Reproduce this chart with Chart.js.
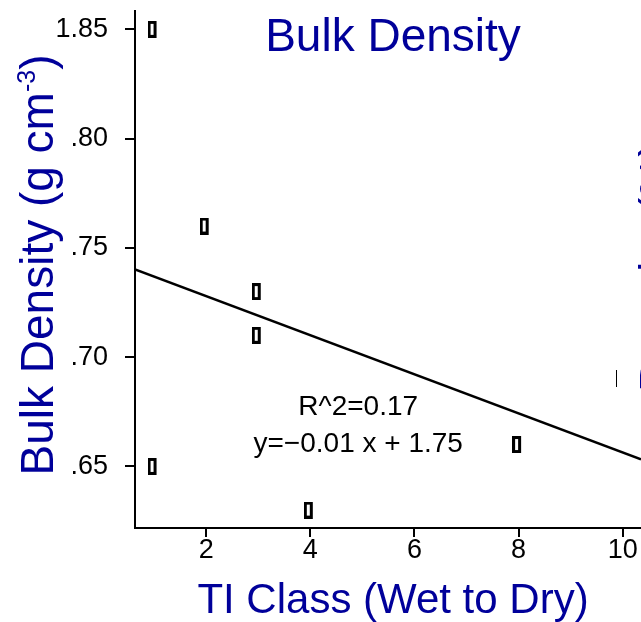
<!DOCTYPE html>
<html>
<head>
<meta charset="utf-8">
<title>Bulk Density</title>
<script src="https://cdn.jsdelivr.net/npm/chart.js@4.4.1/dist/chart.umd.min.js"></script>
<style>
  html, body { margin: 0; padding: 0; background: #fff; overflow: hidden; }
  canvas { display: block; }
</style>
</head>
<body>
<canvas id="bd" width="641" height="622"></canvas>
<script>
// TI class of each sample and its bulk density (g cm-3)
var tiClass = [1, 2, 3, 3, 1, 4, 8, 10];
var bulkDensity = [1.85, 1.76, 1.73, 1.71, 1.65, 1.63, 1.66, 1.69];

var xTicks = [2, 4, 6, 8, 10];
var yTicks = [1.65, 1.70, 1.75, 1.80, 1.85];
var yTickLabels = ['.65', '.70', '.75', '.80', '1.85'];

var xRange = [0.634, 10.35];
var yRange = [1.6218, 1.8584];

var blue = '#00009a';
var font = "'Liberation Sans', Arial, sans-serif";

// least squares line through the samples
function linFit(xs, ys) {
    var n = xs.length, mx = 0, my = 0;
    for (var i = 0; i < n; i++) { mx += xs[i]; my += ys[i]; }
    mx /= n; my /= n;
    var sxy = 0, sxx = 0, syy = 0;
    for (var i = 0; i < n; i++) {
        sxy += (xs[i] - mx) * (ys[i] - my);
        sxx += (xs[i] - mx) * (xs[i] - mx);
        syy += (ys[i] - my) * (ys[i] - my);
    }
    var m = sxy / sxx;
    return { m: m, b: my - m * mx, r2: (sxy * sxy) / (sxx * syy) };
}
var reg = linFit(tiClass, bulkDensity);

var points = tiClass.map(function(x, i){ return { x: x, y: bulkDensity[i] }; });
var regLine = xRange.map(function(x){ return { x: x, y: reg.b + reg.m * x }; });

var fitText = [
    'R^2=' + reg.r2.toFixed(2),
    'y=' + (reg.m < 0 ? '\u2212' : '') + Math.abs(reg.m).toFixed(2) + ' x + ' + reg.b.toFixed(2)
];
var fitTextAt = { x: 4.92, y: 1.6737 };

// open box marker (box sits a little left of the point)
var marker = document.createElement('canvas');
marker.width = 13;
marker.height = 17;
var mc = marker.getContext('2d');
mc.fillStyle = '#fff';
mc.fillRect(1, 1, 7, 15);
mc.strokeStyle = '#000';
mc.lineWidth = 3;
mc.strokeRect(1.5, 1.5, 6, 14);

function noPad(s) {
    s.paddingTop = 0; s.paddingBottom = 0; s.paddingLeft = 0; s.paddingRight = 0;
}

var textPlugin = {
    id: 'panelText',
    afterDraw: function(chart) {
        var ctx = chart.ctx;
        var sx = chart.scales.x, sy = chart.scales.y;
        ctx.save();

        // edge of the neighbouring panel
        ctx.fillStyle = '#fff';
        ctx.fillRect(617, 0, 30, 425);
        ctx.save();
        ctx.translate(672, 392);
        ctx.rotate(-Math.PI / 2);
        ctx.fillStyle = blue;
        ctx.font = '46px ' + font;
        ctx.textAlign = 'left';
        ctx.textBaseline = 'alphabetic';
        ctx.fillText('Porosity (%)', 0, 0);
        ctx.restore();

        ctx.fillStyle = blue;
        ctx.textBaseline = 'alphabetic';
        ctx.textAlign = 'center';
        ctx.font = '46px ' + font;
        ctx.fillText('Bulk Density', 393, 51);
        ctx.font = '42px ' + font;
        ctx.fillText('TI Class (Wet to Dry)', 393, 613);

        // y title with superscript
        ctx.save();
        ctx.translate(53, 265);
        ctx.rotate(-Math.PI / 2);
        ctx.textAlign = 'left';
        var big = '46px ' + font, small = '25px ' + font;
        ctx.font = big;
        var w1 = ctx.measureText('Bulk Density (g cm').width;
        var w3 = ctx.measureText(')').width;
        ctx.font = small;
        var w2 = ctx.measureText('-3').width;
        var x0 = -(w1 + w2 + w3) / 2;
        ctx.font = big;
        ctx.fillText('Bulk Density (g cm', x0, 0);
        ctx.font = small;
        ctx.fillText('-3', x0 + w1, -18);
        ctx.font = big;
        ctx.fillText(')', x0 + w1 + w2, 0);
        ctx.restore();

        // fit statistics
        ctx.fillStyle = '#000';
        ctx.textAlign = 'center';
        ctx.font = '28px ' + font;
        var px = sx.getPixelForValue(fitTextAt.x);
        var py = sy.getPixelForValue(fitTextAt.y);
        ctx.fillText(fitText[0], px, py);
        ctx.fillText(fitText[1], px, py + 37);

        ctx.restore();
    }
};

var ctx = document.getElementById('bd');
var chart = new Chart(ctx, {
    type: 'scatter',
    data: {
        datasets: [{
            data: points,
            pointStyle: marker,
            pointRadius: 8,
            showLine: false
        }, {
            data: regLine,
            showLine: true,
            pointRadius: 0,
            borderColor: '#000',
            borderWidth: 2.5,
            fill: false
        }]
    },
    options: {
        responsive: false,
        animation: false,
        layout: { autoPadding: false, padding: { top: 11, left: 0, right: 0, bottom: 0 } },
        plugins: { legend: { display: false }, tooltip: { enabled: false }, title: { display: false } },
        scales: {
            x: {
                type: 'linear',
                min: xRange[0],
                max: xRange[1],
                afterBuildTicks: function(s){ s.ticks = xTicks.map(function(v){ return { value: v }; }); },
                afterFit: function(s){ s.height = 94; noPad(s); },
                grid: { display: true, drawOnChartArea: false, drawTicks: true, tickLength: 9, color: '#000', lineWidth: 2 },
                border: { display: true, color: '#000', width: 2 },
                ticks: {
                    color: '#000',
                    font: { family: font, size: 27, lineHeight: 1 },
                    padding: 0,
                    maxRotation: 0,
                    autoSkip: false,
                    callback: function(v){ return String(v); }
                }
            },
            y: {
                type: 'linear',
                min: yRange[0],
                max: yRange[1],
                afterBuildTicks: function(s){ s.ticks = yTicks.map(function(v){ return { value: v }; }); },
                afterFit: function(s){ s.width = 135; noPad(s); },
                grid: { display: true, drawOnChartArea: false, drawTicks: true, tickLength: 10, color: '#000', lineWidth: 2 },
                border: { display: true, color: '#000', width: 2 },
                ticks: {
                    color: '#000',
                    font: { family: font, size: 27, lineHeight: 1 },
                    padding: 17,
                    autoSkip: false,
                    callback: function(v){ return yTickLabels[yTicks.indexOf(v)]; }
                }
            }
        }
    },
    plugins: [textPlugin]
});
</script>
</body>
</html>
